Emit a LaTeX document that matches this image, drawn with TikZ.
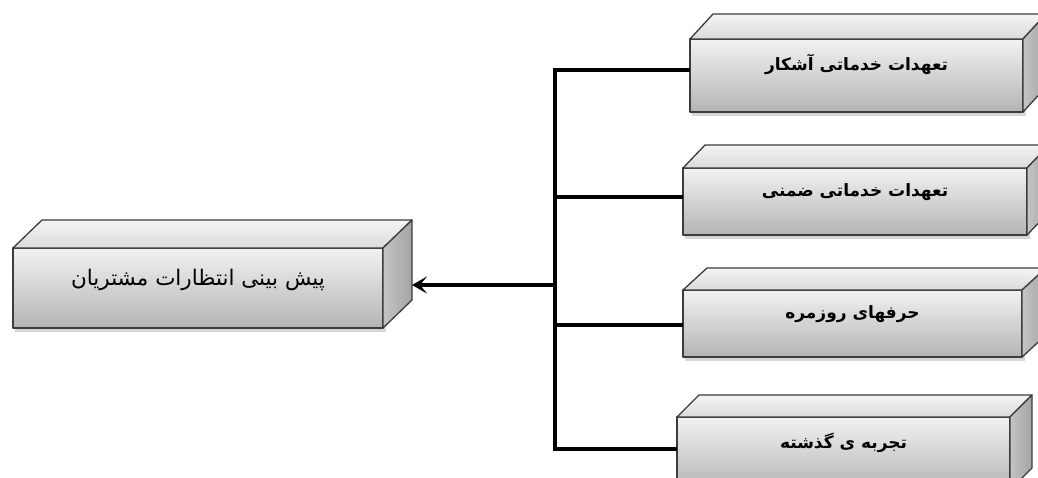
\documentclass[tikz,border=0pt]{standalone}
\usepackage{fontspec}
\usetikzlibrary{arrows.meta,calc}
\newfontfamily\arabicfont[Script=Arabic]{DejaVu Sans}
\TeXXeTstate=1
\definecolor{edgegray}{HTML}{3C3C3C}
\definecolor{facetop}{HTML}{F2F2F2}
\definecolor{facebot}{HTML}{B4B4B4}
\definecolor{toptop}{HTML}{F4F4F4}
\definecolor{topbot}{HTML}{DADADA}
\definecolor{sideleft}{HTML}{C4C4C4}
\definecolor{sideright}{HTML}{A4A4A4}
\tikzset{
  face/.style={draw=edgegray, line width=1.3pt, top color=facetop, bottom color=facebot,
    inner sep=0pt, outer sep=0pt, line join=round},
  topface/.style={draw=edgegray, line width=1.3pt, top color=toptop, bottom color=topbot, line join=round},
  sideface/.style={draw=edgegray, line width=1.3pt, left color=sideleft, right color=sideright, line join=round},
  conn/.style={line width=3.6pt, line join=miter},
  boldlbl/.style={font=\arabicfont\bfseries\fontsize{17}{20}\selectfont},
  reglbl/.style={font=\arabicfont\fontsize{21.5}{25}\selectfont},
}
% #1 name, #2 x1, #3 y1, #4 x2, #5 y2, #6 dx, #7 dy, #8 label style, #9 text shift up, #10 text
\newcommand\cubebox[9]{%
  \pgfmathsetmacro\cbw{#4-#2}%
  \pgfmathsetmacro\cbh{#5-#3}%
  \pgfmathsetmacro\cbx{(#2+#4)/2}%
  \pgfmathsetmacro\cby{(#3+#5)/2}%
  \fill[black!16] (#2+2,#3+3) rectangle (#4+3,#5+4);
  \node[face, minimum width=\cbw pt, minimum height=\cbh pt] (#1) at (\cbx,\cby) {};
  \draw[topface] (#1.north west) -- ++(#6,-#7) -- ++(\cbw,0) -- (#1.north east) -- cycle;
  \draw[sideface] (#1.north east) -- ++(#6,-#7) -- ++(0,\cbh) -- (#1.south east) -- cycle;
  \cubetext{#1}{#8}{#9}%
}
\newcommand\cubetext[4]{\node[#2] (#1-t) at ($(#1.center)+(0,-#3)$) {#4};}
\begin{document}
\begin{tikzpicture}[x=1pt,y=-1pt]
\useasboundingbox (0,0) rectangle (1038,477);
\cubebox{L}{13}{248}{383}{328}{29}{28}{reglbl}{8}{\beginR پیش بینی انتظارات مشتریان\endR}
\cubebox{B1}{690}{39}{1023}{112}{23}{25}{boldlbl}{11}{\beginR تعهدات خدماتی آشکار\endR}
\cubebox{B2}{683}{168}{1027}{235}{22}{23}{boldlbl}{9}{\beginR تعهدات خدماتی ضمنی\endR}
\cubebox{B3}{683}{290}{1022}{357}{24}{22}{boldlbl}{9}{\beginR حرفهای روزمره\endR}
\cubebox{B4}{677}{417}{1010}{490}{22}{22}{boldlbl}{11}{\beginR تجربه ی گذشته\endR}
\coordinate (j1) at (555,70);
\coordinate (j2) at (555,197);
\coordinate (j3) at (555,325);
\coordinate (j4) at (555,449);
\coordinate (ja) at (555,285);
\coordinate (Lr) at ($(L.east)+(29,0)$);
\draw[conn] (j1 -| B1.west) -- (j1) -- (j4) -- (j4 -| B4.west);
\draw[conn] (j2) -- (j2 -| B2.west);
\draw[conn] (j3) -- (j3 -| B3.west);
\draw[conn, -{Stealth[length=15pt,width=17pt,inset=7pt]}] (ja) -- (Lr |- ja);
\end{tikzpicture}
\end{document}
